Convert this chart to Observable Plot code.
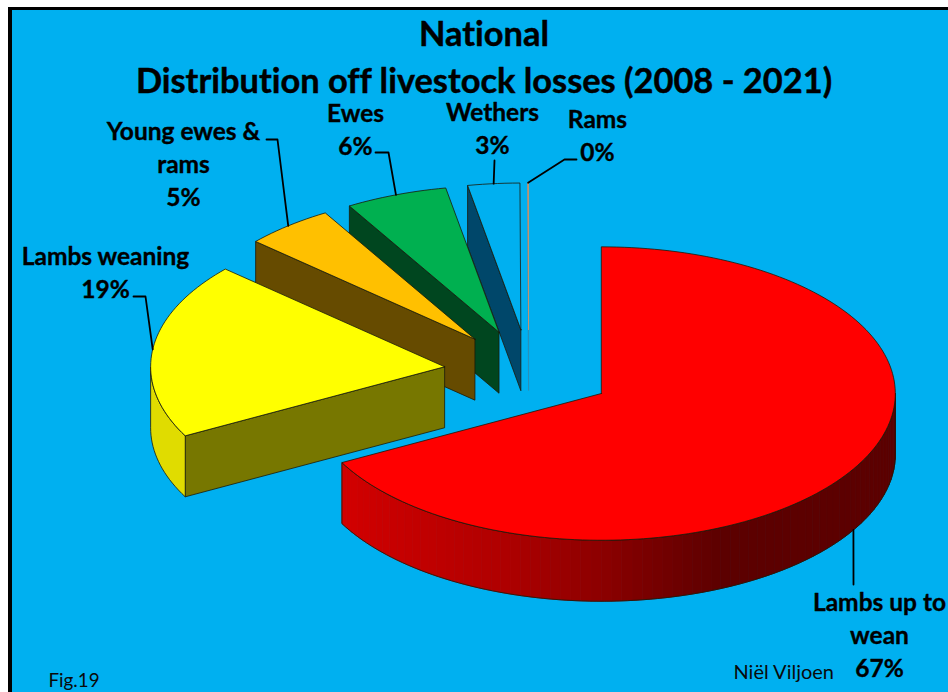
<!DOCTYPE html>
<html>
<head>
<meta charset="utf-8">
<title>Distribution of livestock losses</title>
<script src="https://cdn.jsdelivr.net/npm/d3@7"></script>
<script src="https://cdn.jsdelivr.net/npm/@observablehq/plot@0.6"></script>
<style>
  html, body { margin: 0; background: #fff; }
  #page { position: relative; width: 948px; height: 692px; overflow: hidden; font-family: Lato, sans-serif;
          font-variant-ligatures: none; }
  #page text { font-variant-ligatures: none; }
  #panel { position: absolute; left: 8px; top: 7px; right: 0; bottom: 0; background: #00b0f0;
           border-left: 4px solid #000; border-top: 3px solid #000; }
  #head { position: relative; height: 98px; text-align: center; color: #000; font-weight: 700;
          font-size: 34.4px; line-height: 47px; padding-left: 20px; box-sizing: border-box; padding-top: 9px;
          -webkit-text-stroke: 0.45px #000; }
  #chart { position: relative; }
</style>
</head>
<body>
<div id="page">
  <div id="panel"></div>
  <div id="head">National<br>Distribution off livestock losses (2008 - 2021)</div>
  <div id="chart"></div>
</div>
<script>
// Share of losses per class, in pie order, clockwise from twelve o'clock.
const categories = ["Lambs up to\nwean", "Lambs weaning", "Young ewes &\nrams", "Ewes", "Wethers", "Rams"];
const shares = [67.2, 19.4, 4.9, 5.6, 2.85, 0.05];
const topColors = ["#ff0000", "#ffff00", "#ffc000", "#00b050", "#00b0f0", "#c8966e"];
const wallColors = ["#cf0000", "#777700", "#664b00", "#00461f", "#00476a", "#2a90b8"];
const rimColors = [null, "#e0dc00", null, null, null, null];

// Pie geometry, in pie radii. Vertical foreshortening lives in the y scale.
const radiusX = 294, radiusY = 146.7;
const originX = 528.2, originY = 371.3;
const explode = 0.288, depth = 61 / radiusY;
const headHeight = 98, pageW = 948, pageH = 692;

const fx = (px) => (px - originX) / radiusX;
const fy = (py) => (originY - py) / radiusY;

const rad = (deg) => (deg * Math.PI) / 180;
const redShade = d3.scaleLinear([343, 500, 600, 720], ["#d20000", "#b00000", "#8c0000", "#5c0000"]).clamp(true);

// Slices with their start/end angles and exploded apex.
let running = 0;
const slices = shares.map((share, i) => {
  const a0 = running * 3.6;
  running += share;
  const a1 = running * 3.6;
  const mid = rad((a0 + a1) / 2);
  return {i, share, a0, a1, ax: explode * Math.sin(mid), ay: explode * Math.cos(mid), mid};
});
const rimPoint = (s, deg, drop = 0) => [s.ax + Math.sin(rad(deg)), s.ay + Math.cos(rad(deg)) - drop];
const arc = (s, from, to, drop = 0) => {
  const n = Math.max(2, Math.ceil(Math.abs(to - from) / 1.5));
  return d3.range(n + 1).map((k) => rimPoint(s, from + ((to - from) * k) / n, drop));
};

const faces = [];
let faceId = 0;
const addFace = (pts, fill, stroke) => {
  const id = faceId++;
  [...pts, pts[0]].forEach(([x, y]) => faces.push({x, y, id, fill, stroke}));
};
const edge = "#1a1a0a";

// Paint back to front: the smallest, rearmost slice first and the large one last.
[...slices].reverse().forEach((s) => {
  // Cut face on the slice's starting radius, visible when it looks toward the viewer.
  if (s.i !== 0) {
    const c = rimPoint(s, s.a0);
    const e = s.i === 5 ? wallColors[5] : edge;
    addFace([[s.ax, s.ay], c, [c[0], c[1] - depth], [s.ax, s.ay - depth]], wallColors[s.i], e);
  }
  // Curved outer wall, only where the rim faces front (90 to 270 degrees).
  const from = Math.max(s.a0, 90), to = Math.min(s.a1, 270);
  if (from < to) {
    if (s.i === 0) {
      const step = 2;
      for (let a = from; a < to; a += step) {
        const b = Math.min(a + step, to);
        const px = originX + radiusX * (s.ax + Math.sin(rad((a + b) / 2)));
        const col = redShade(px);
        addFace([...arc(s, a, b), ...arc(s, b, a, depth)], col, col);
      }
      addFace([...arc(s, from, to), ...arc(s, to, from, depth)], "none", edge);
    } else {
      addFace([...arc(s, from, to), ...arc(s, to, from, depth)], rimColors[s.i], edge);
    }
  }
  // Top face.
  const e = s.i === 5 ? topColors[5] : edge;
  addFace([[s.ax, s.ay], ...arc(s, s.a0, s.a1)], topColors[s.i], e);
});

// Label centres and leader elbows, in frame pixels.
const labelSpots = [[879, 633], [105, 270], [183, 162], [355, 127], [492, 126], [597, 133]];
const leaderStarts = [[853, 584], [133, 296], [266, 139], [375, 152], [494, 160], [576, 159]];
const leaderElbows = [null, [145, 296], [277, 139], [388, 152], null, [564, 159]];

const labels = slices.map((s) => ({
  x: fx(labelSpots[s.i][0]),
  y: fy(labelSpots[s.i][1]),
  text: `${categories[s.i]}\n${Math.round(s.share)}%`
}));

const leaders = slices.flatMap((s) => {
  const drop = s.i === 0 ? depth : 0;
  const end = rimPoint(s, (s.a0 + s.a1) / 2, drop);
  const pts = [leaderStarts[s.i], leaderElbows[s.i]].filter(Boolean).map(([a, b]) => [fx(a), fy(b)]);
  return [...pts, end].map(([x, y]) => ({x, y, id: s.i}));
});

const credits = [
  {x: fx(48), y: fy(680), text: "Fig.19", size: 18.8},
  {x: fx(733), y: fy(672), text: "Niël Viljoen", size: 20}
];

const plot = Plot.plot({
  width: pageW,
  height: pageH - headHeight,
  margin: 0,
  style: {background: "transparent", overflow: "visible"},
  x: {domain: [fx(0), fx(pageW)], range: [0, pageW], axis: null},
  y: {domain: [fy(headHeight), fy(pageH)], range: [0, pageH - headHeight], axis: null},
  color: {type: "identity"},
  marks: [
    Plot.line(faces, {x: "x", y: "y", z: "id", fill: "fill", stroke: "stroke", strokeWidth: 0.8, curve: "linear-closed", strokeLinejoin: "round"}),
    Plot.line(leaders, {x: "x", y: "y", z: "id", stroke: "#000", strokeWidth: 1.8, curve: "linear"}),
    Plot.text(labels, {x: "x", y: "y", text: "text", fontFamily: "Lato", fontWeight: 700, fontSize: 24.5, lineHeight: 1.35, fill: "#000", stroke: "#000", strokeWidth: 0.35, lineAnchor: "middle", textAnchor: "middle"}),
    Plot.text(credits, {x: "x", y: "y", text: "text", fontFamily: "Lato", fontSize: "size", fill: "#0a0a0a", textAnchor: "start", lineAnchor: "middle"})
  ]
});
document.getElementById("chart").appendChild(plot);
</script>
</body>
</html>
